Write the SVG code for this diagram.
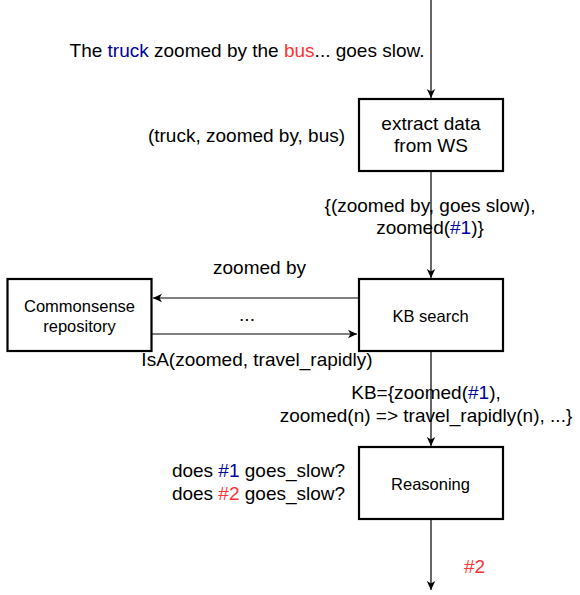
<svg xmlns="http://www.w3.org/2000/svg" width="580" height="595" viewBox="0 0 580 595">
<defs>
<style>
.box{fill:#fff;stroke:#000;stroke-width:2.2}
.t{font-family:"Liberation Sans",Arial,sans-serif;font-size:19px;fill:#000}
.s{font-family:"Liberation Sans",Arial,sans-serif;font-size:16.5px;fill:#000}
.c{text-anchor:middle}
.blue{fill:#00009c}
.red{fill:#ff3333}
.edge{fill:none;stroke:#000;stroke-width:1.2}
</style>
<marker id="arr" markerUnits="userSpaceOnUse" viewBox="-10 -5 11 10" refX="0" refY="0" markerWidth="11" markerHeight="10" orient="auto">
<path d="M0,0 L-9,-4.2 L-6.5,0 L-9,4.2 Z" fill="#000"/>
</marker>
</defs>
<rect width="580" height="595" fill="#fff"/>
<g id="connectors">
<path class="edge" d="M431,0 V98" marker-end="url(#arr)"/>
<path class="edge" d="M431,171 V278" marker-end="url(#arr)"/>
<path class="edge" d="M358,298 H153" marker-end="url(#arr)"/>
<path class="edge" d="M152,334 H357" marker-end="url(#arr)"/>
<path class="edge" d="M431,351 V446" marker-end="url(#arr)"/>
<path class="edge" d="M431,519 V590" marker-end="url(#arr)"/>
</g>
<g id="labels">
<text class="t c" x="247" y="57">The <tspan class="blue">truck</tspan> zoomed by the <tspan class="red">bus</tspan>... goes slow.</text>
<text class="t c" x="246.5" y="142">(truck, zoomed by, bus)</text>
<text class="t c" x="430" y="212">{(zoomed by, goes slow),</text>
<text class="t c" x="430" y="234">zoomed(<tspan class="blue">#1</tspan>)}</text>
<text class="t c" x="259.5" y="274">zoomed by</text>
<text class="t c" x="247" y="321">...</text>
<text class="t c" x="257" y="366">IsA(zoomed, travel_rapidly)</text>
<text class="t c" x="426" y="399">KB={zoomed(<tspan class="blue">#1</tspan>),</text>
<text class="t c" x="426" y="421.5">zoomed(n) =&gt; travel_rapidly(n), ...}</text>
<text class="t c" x="258.5" y="477">does <tspan class="blue">#1</tspan> goes_slow?</text>
<text class="t c" x="258.5" y="499.5">does <tspan class="red">#2</tspan> goes_slow?</text>
<text class="t red" x="464" y="573">#2</text>
</g>
<g id="extract">
<rect class="box" x="359" y="99" width="144" height="72"/>
<text class="t c" x="431" y="129.5">extract data</text>
<text class="t c" x="431" y="151.5">from WS</text>
</g>
<g id="kbsearch">
<rect class="box" x="359" y="279" width="144" height="72"/>
<text class="s c" x="430.5" y="321.5">KB search</text>
</g>
<g id="commonsense">
<rect class="box" x="7.5" y="279" width="144" height="72"/>
<text class="s c" x="79.5" y="311.5">Commonsense</text>
<text class="s c" x="79.5" y="331.5">repository</text>
</g>
<g id="reasoning">
<rect class="box" x="359" y="447" width="144" height="72"/>
<text class="s c" x="430.5" y="490">Reasoning</text>
</g>
</svg>
